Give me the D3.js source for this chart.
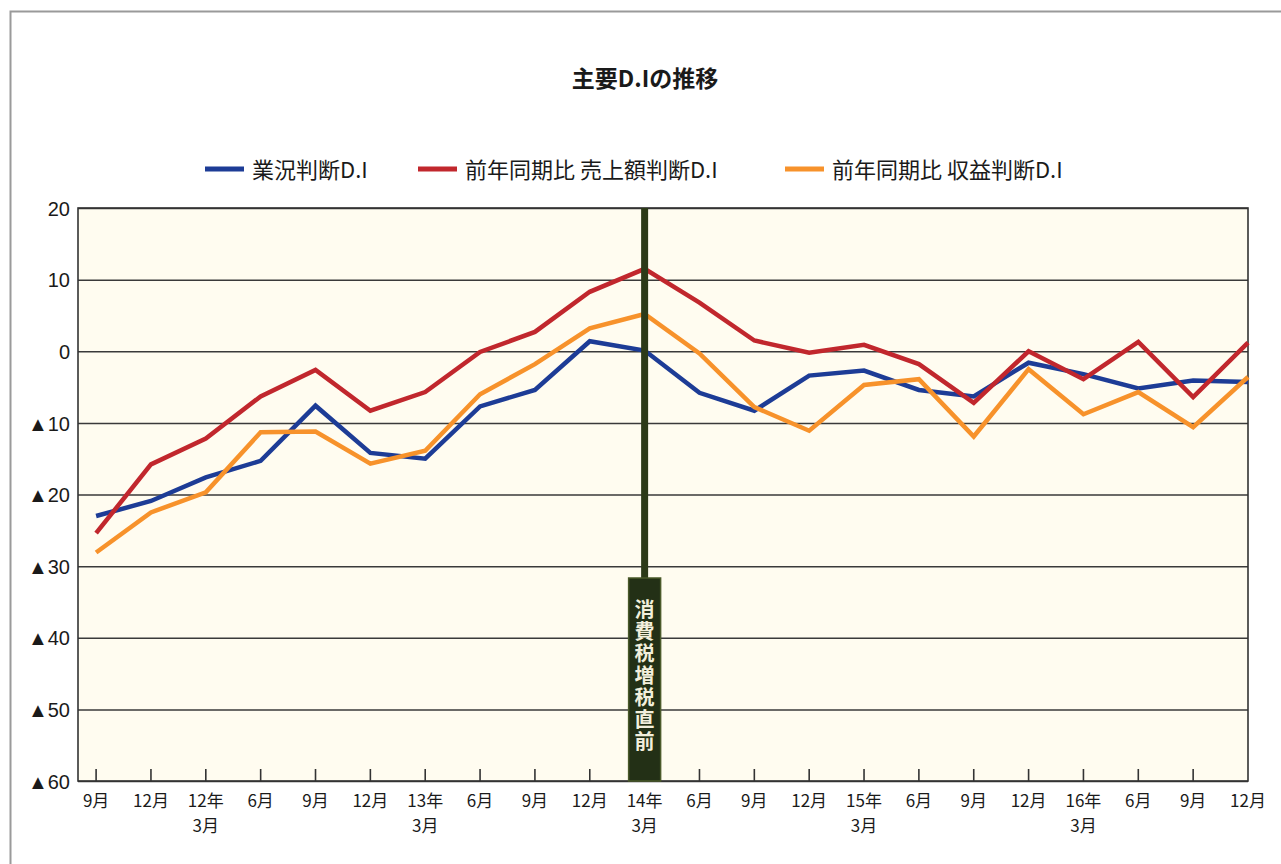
<!DOCTYPE html>
<html lang="ja">
<head>
<meta charset="utf-8">
<title>主要D.Iの推移</title>
<script src="https://cdn.jsdelivr.net/npm/d3@7"></script>
<style>
  html, body { margin: 0; padding: 0; background: #ffffff; }
  svg { display: block; }
  text { font-family: "Noto Sans CJK JP", "Noto Sans", sans-serif; fill: #1a1a1a; }
  .num { font-family: "Liberation Sans", Arial, sans-serif; }
  .marker-label { fill: #f2efdc; writing-mode: vertical-rl; font-weight: bold; }
</style>
</head>
<body>
<script>
// Quarter labels (two lines: upper / lower)
const tickTop = ["9月","12月","12年","6月","9月","12月","13年","6月","9月","12月","14年",
                 "6月","9月","12月","15年","6月","9月","12月","16年","6月","9月","12月"];
const tickBottom = ["","","3月","","","","3月","","","","3月",
                    "","","","3月","","","","3月","","",""];

// 業況判断D.I
const gyokyo = [-23.0,-20.9,-17.6,-15.3,-7.6,-14.2,-15.0,-7.7,-5.4,1.4,0.1,
                -5.8,-8.3,-3.4,-2.7,-5.4,-6.3,-1.6,-3.2,-5.2,-4.1,-4.3];
// 前年同期比 売上額判断D.I
const uriage = [-25.4,-15.8,-12.2,-6.3,-2.6,-8.3,-5.7,-0.1,2.7,8.3,11.5,
                6.8,1.5,-0.2,0.9,-1.8,-7.2,0.0,-3.9,1.3,-6.4,1.2];
// 前年同期比 収益判断D.I
const shueki = [-28.1,-22.5,-19.7,-11.3,-11.2,-15.7,-13.9,-6.0,-1.8,3.2,5.2,
                -0.3,-7.8,-11.1,-4.7,-3.9,-11.9,-2.5,-8.8,-5.7,-10.6,-3.6];

const seriesNames = ["業況判断D.I", "前年同期比 売上額判断D.I", "前年同期比 収益判断D.I"];
const seriesColors = ["#1d3c96", "#c1272d", "#f7922b"];
const yTicks = [20, 10, 0, -10, -20, -30, -40, -50, -60];

const markerIndex = 10;            // 14年3月
const markerText = "消費税増税直前";

const W = 1281, H = 864;
const svg = d3.select("body").append("svg").attr("width", W).attr("height", H);

// outer frame
svg.append("path")
  .attr("d", "M10.5,864 V11.5 H1281")
  .attr("fill", "none").attr("stroke", "#9a9a9a").attr("stroke-width", 2);

const plot = { left: 78, right: 1248, top: 208, bottom: 781 };

const x = d3.scaleLinear().domain([-0.33, tickTop.length - 1]).range([plot.left, plot.right]);
const y = d3.scaleLinear().domain([-60, 20]).range([plot.bottom, plot.top]);

// plot background
svg.append("rect")
  .attr("x", plot.left).attr("y", plot.top)
  .attr("width", plot.right - plot.left).attr("height", plot.bottom - plot.top)
  .attr("fill", "#fffcf0");

// horizontal gridlines + y labels
const yAxis = d3.axisLeft(y).tickValues(yTicks).tickSize(-(plot.right - plot.left)).tickPadding(8)
  .tickFormat(v => v < 0 ? "▲" + Math.abs(v) : String(v));
const gy = svg.append("g").attr("transform", `translate(${plot.left},0)`).call(yAxis);
gy.select(".domain").remove();
gy.selectAll(".tick line").attr("stroke", "#3a3a3a").attr("stroke-width", 1.5);
gy.selectAll(".tick text")
  .attr("class", "num")
  .attr("font-size", 20).attr("dy", "0.36em");

// plot border
svg.append("rect")
  .attr("x", plot.left).attr("y", plot.top)
  .attr("width", plot.right - plot.left).attr("height", plot.bottom - plot.top)
  .attr("fill", "none").attr("stroke", "#333").attr("stroke-width", 1.6);

// x ticks (short marks rising from the baseline)
const idx = d3.range(tickTop.length);
svg.append("g").selectAll("line").data(idx.slice(0, -1)).join("line")
  .attr("x1", d => x(d)).attr("x2", d => x(d))
  .attr("y1", plot.bottom).attr("y2", plot.bottom - 12)
  .attr("stroke", "#333").attr("stroke-width", 1.6);

// x labels
const xl = svg.append("g").attr("font-size", 17).attr("text-anchor", "middle");
xl.selectAll("text.top").data(idx).join("text").attr("class", "top")
  .attr("x", d => x(d)).attr("y", 807).text(d => tickTop[d]);
xl.selectAll("text.bot").data(idx.filter(d => tickBottom[d])).join("text").attr("class", "bot")
  .attr("x", d => x(d)).attr("y", 832).text(d => tickBottom[d]);

// series lines
const line = d3.line().x((d, i) => x(i)).y(d => y(d));
[gyokyo, uriage, shueki].forEach((vals, k) => {
  svg.append("path").datum(vals)
    .attr("d", line)
    .attr("fill", "none")
    .attr("stroke", seriesColors[k])
    .attr("stroke-width", 4.5)
    .attr("stroke-linejoin", "miter");
});

// consumption-tax marker
const mx = x(markerIndex);
const boxTop = 578;
svg.append("line")
  .attr("x1", mx).attr("x2", mx).attr("y1", plot.top).attr("y2", boxTop)
  .attr("stroke", "#2c3a18").attr("stroke-width", 7);
svg.append("rect")
  .attr("x", mx - 16).attr("y", boxTop).attr("width", 32).attr("height", plot.bottom - boxTop)
  .attr("fill", "#233016").attr("stroke", "#4a5a2a").attr("stroke-width", 1.5);
svg.append("text")
  .attr("class", "marker-label")
  .attr("x", mx).attr("y", 599)
  .attr("font-size", 20)
  .attr("letter-spacing", 2)
  .text(markerText);

// title
svg.append("text")
  .attr("x", 645).attr("y", 87)
  .attr("text-anchor", "middle")
  .attr("font-size", 23).attr("font-weight", "bold")
  .text("主要D.Iの推移");

// legend
const legendX = [205, 418, 785];
const lg = svg.append("g");
seriesNames.forEach((name, k) => {
  lg.append("line")
    .attr("x1", legendX[k]).attr("x2", legendX[k] + 39)
    .attr("y1", 169).attr("y2", 169)
    .attr("stroke", seriesColors[k]).attr("stroke-width", 5);
  lg.append("text")
    .attr("x", legendX[k] + 47).attr("y", 178)
    .attr("font-size", 22)
    .text(name);
});
</script>
</body>
</html>
